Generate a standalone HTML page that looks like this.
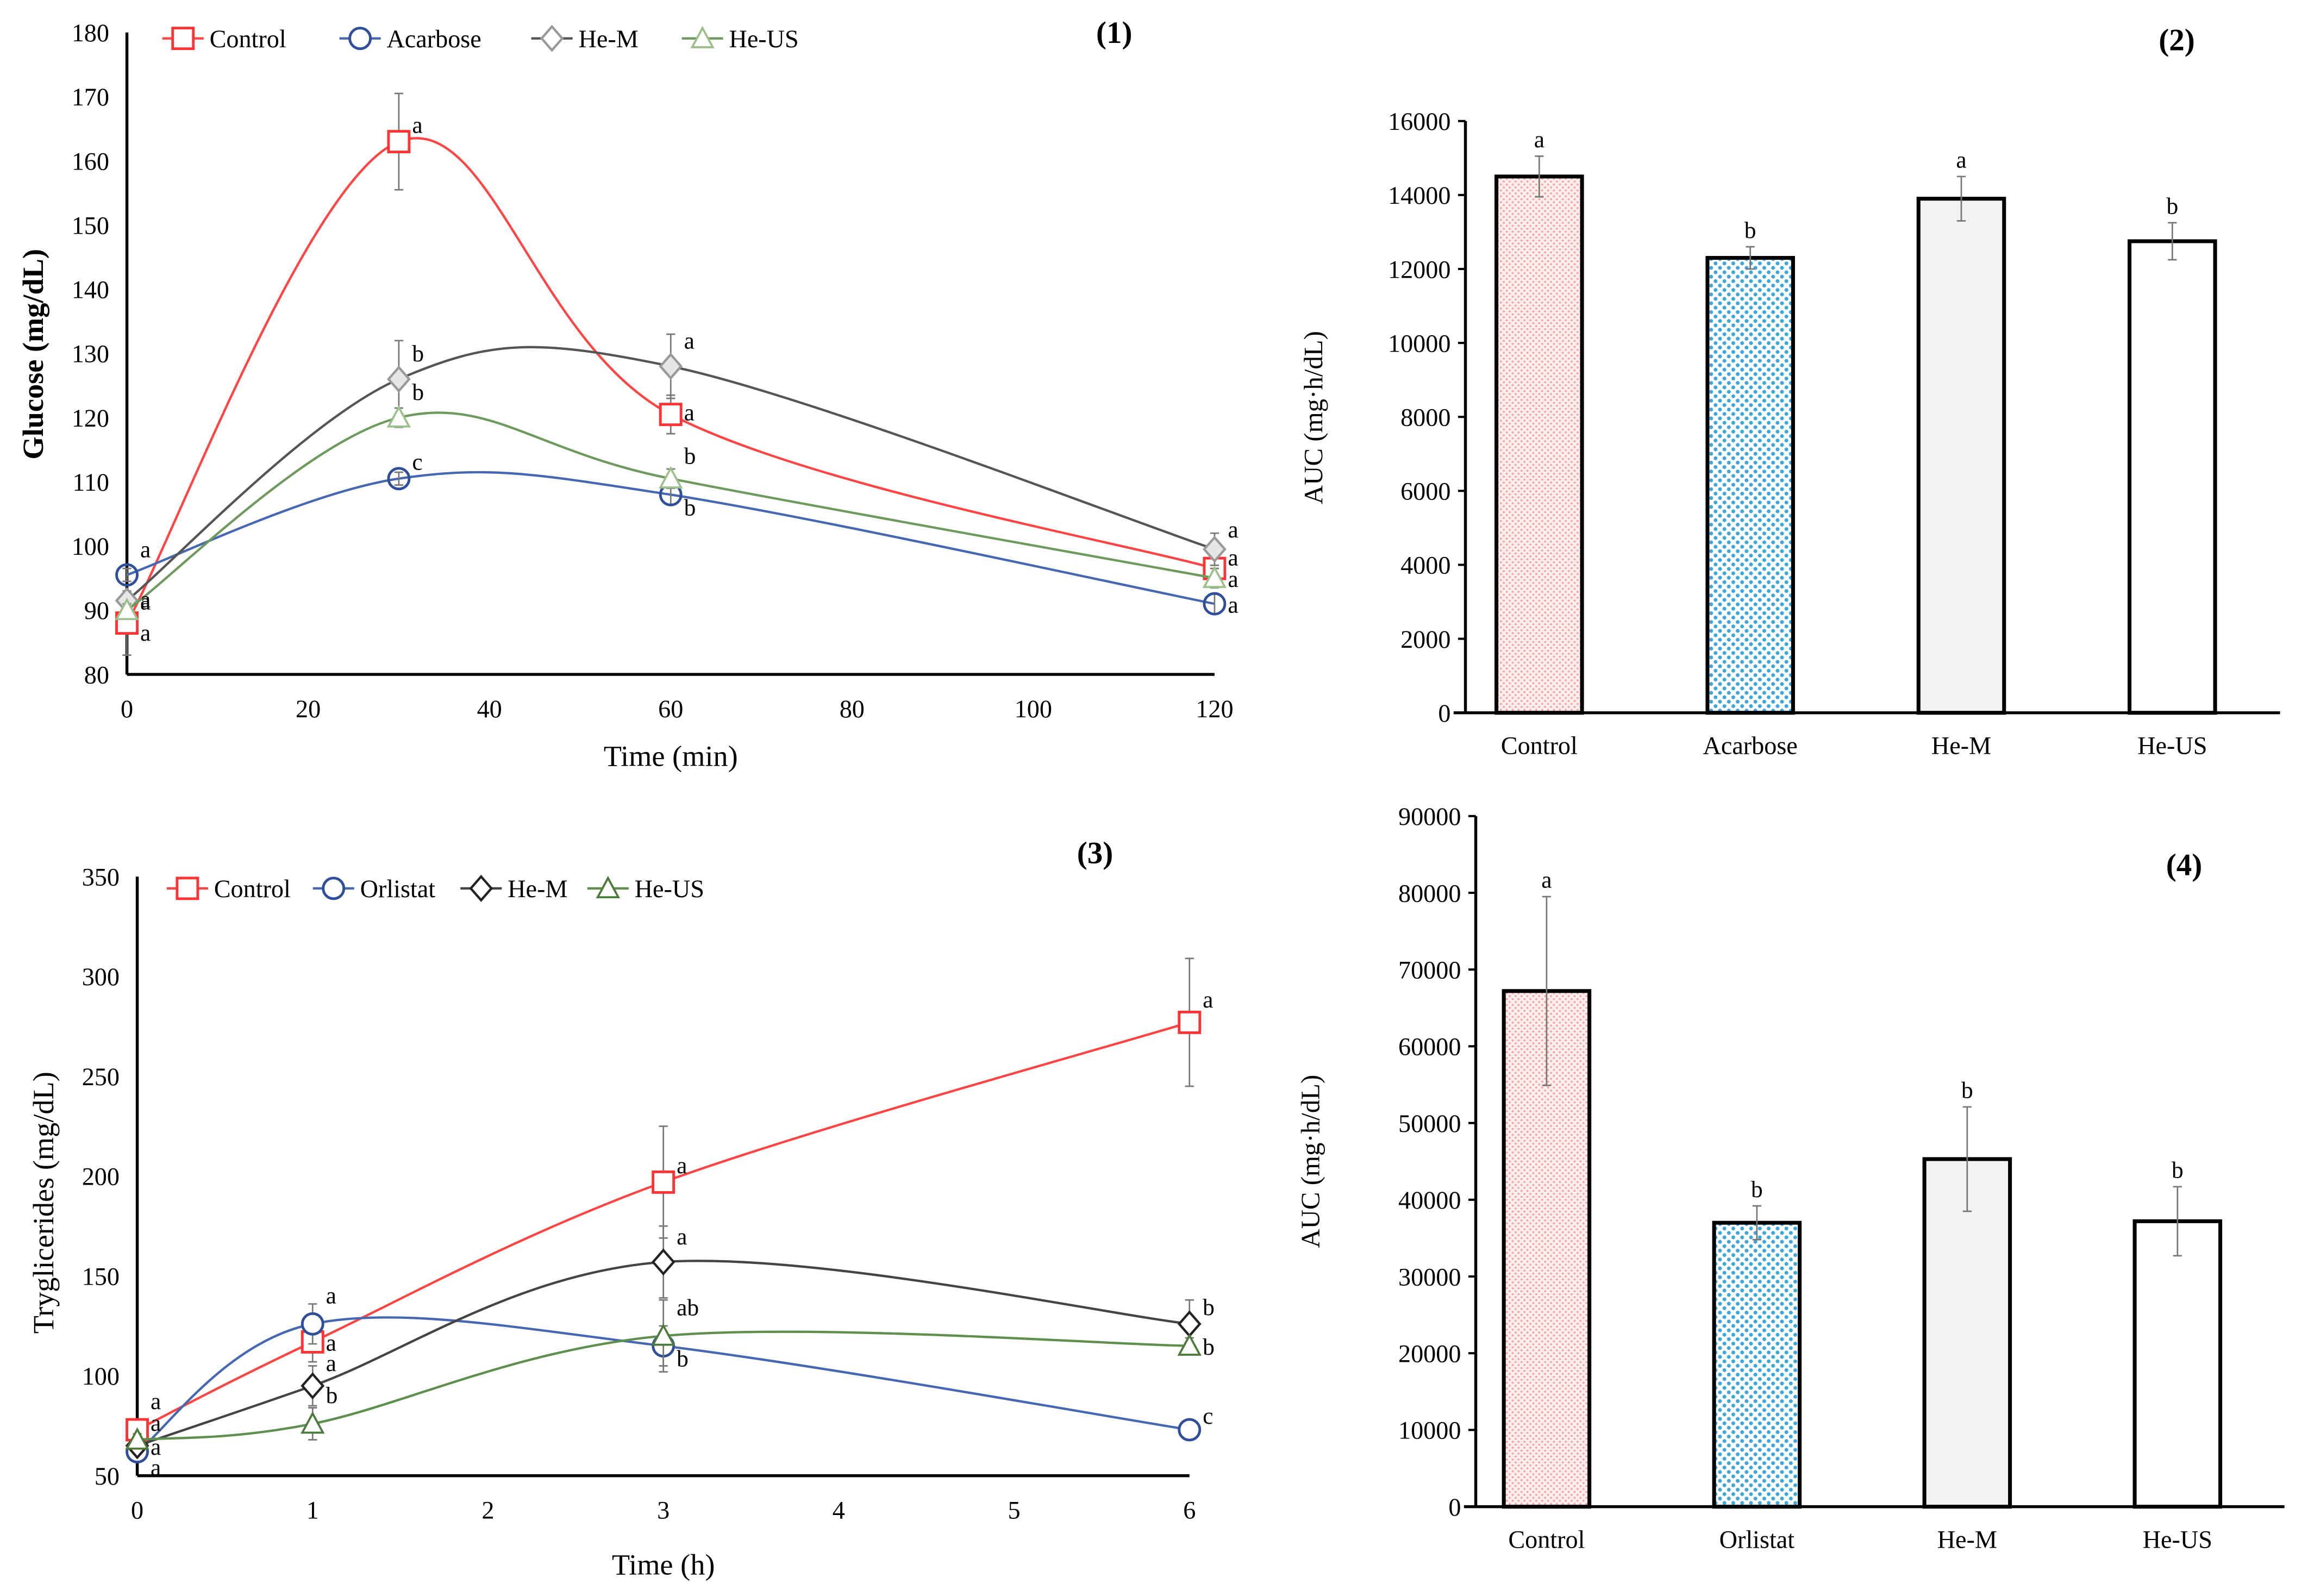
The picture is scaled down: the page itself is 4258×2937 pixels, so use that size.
<!DOCTYPE html>
<html><head><meta charset="utf-8"><style>
html,body{margin:0;padding:0;background:#fff;}
svg{display:block;font-family:"Liberation Serif",serif;}
svg text{font-family:"Liberation Serif",serif;}
</style></head><body>
<svg id="fig" width="4258" height="2937" viewBox="0 0 1568 1081.5" xmlns="http://www.w3.org/2000/svg" font-family="Liberation Serif, serif">
<defs>
<pattern id="pinkDots" width="4" height="4" patternUnits="userSpaceOnUse"><rect width="4" height="4" fill="#fdeeee"/><circle cx="1" cy="1" r="0.7" fill="#f4a0a0"/><circle cx="3" cy="3" r="0.7" fill="#f4a0a0"/></pattern>
<pattern id="blueDots" width="6" height="6" patternUnits="userSpaceOnUse"><rect width="6" height="6" fill="#fff"/><circle cx="1.5" cy="1.5" r="1.3" fill="#3fa6dc"/><circle cx="4.5" cy="4.5" r="1.3" fill="#3fa6dc"/></pattern>
</defs>
</svg>
<script>
// ---------- Chart 1 data ----------
const c1Times=[0,30,60,120];
const c1Control=[88,163,120.5,96.5];
const c1Acarbose=[95.5,110.5,108,91];
const c1HeM=[91.5,126,128,99.5];
const c1HeUS=[90,120,110.5,95];
const c1ControlErr=[5,7.5,3,1.5];
const c1AcarboseErr=[1,1,1.5,1.5];
const c1HeMErr=[1,6,5,2.5];
const c1HeUSErr=[1,1.5,1.5,1.5];
const c1ControlLet=['a','a','a','a'];
const c1AcarboseLet=['a','c','b','a'];
const c1HeMLet=['a','b','a','a'];
const c1HeUSLet=['a','b','b','a'];
const c1YTicks=[80,90,100,110,120,130,140,150,160,170,180];
const c1XTicks=[0,20,40,60,80,100,120];
// ---------- Chart 2 data ----------
const c2Cats=['Control','Acarbose','He-M','He-US'];
const c2Vals=[14500,12300,13900,12750];
const c2Errs=[550,300,600,500];
const c2Lets=['a','b','a','b'];
const c2YTicks=[0,2000,4000,6000,8000,10000,12000,14000,16000];
// ---------- Chart 3 data ----------
const c3Times=[0,1,3,6];
const c3Control=[73,117,197,277];
const c3Orlistat=[62,126,115,73];
const c3HeM=[65,95,157,126];
const c3HeUS=[68,76,120,115];
const c3ControlErr=[3,10,28,32];
const c3OrlistatErr=[3,10,10,2];
const c3HeMErr=[3,10,18,12];
const c3HeUSErr=[3,8,18,4];
const c3ControlLet=['a','a','a','a'];
const c3OrlistatLet=['a','a','b','c'];
const c3HeMLet=['a','a','a','b'];
const c3HeUSLet=['a','b','ab','b'];
const c3YTicks=[50,100,150,200,250,300,350];
const c3XTicks=[0,1,2,3,4,5,6];
// ---------- Chart 4 data ----------
const c4Cats=['Control','Orlistat','He-M','He-US'];
const c4Vals=[67200,37000,45300,37200];
const c4Errs=[12300,2200,6800,4500];
const c4Lets=['a','b','b','b'];
const c4YTicks=[0,10000,20000,30000,40000,50000,60000,70000,80000,90000];

const svg=document.getElementById('fig');
const NS='http://www.w3.org/2000/svg';
function mk(tag,attrs,parent){const e=document.createElementNS(NS,tag);for(const k in attrs)e.setAttribute(k,attrs[k]);(parent||svg).appendChild(e);return e;}
function txt(x,y,s,size,anchor,extra,parent){const t=mk('text',Object.assign({x:x,y:y,'font-size':size,'text-anchor':anchor||'start',fill:'#000','font-family':'Liberation Serif, serif'},extra||{}),parent);t.textContent=s;return t;}
function smooth(pts){let d='M'+pts[0][0]+','+pts[0][1];for(let i=0;i<pts.length-1;i++){const p0=pts[i-1]||pts[i],p1=pts[i],p2=pts[i+1],p3=pts[i+2]||p2;const c1=[p1[0]+(p2[0]-p0[0])/6,p1[1]+(p2[1]-p0[1])/6];const c2=[p2[0]-(p3[0]-p1[0])/6,p2[1]-(p3[1]-p1[1])/6];d+=' C'+c1+' '+c2+' '+p2;}return d;}
function marker(type,x,y,stroke,fill,g){
 if(type==='sq')return mk('rect',{x:x-7,y:y-7,width:14,height:14,fill:fill,stroke:stroke,'stroke-width':1.8},g);
 if(type==='ci')return mk('circle',{cx:x,cy:y,r:7,fill:fill,stroke:stroke,'stroke-width':1.8},g);
 if(type==='di')return mk('polygon',{points:(x)+','+(y-8)+' '+(x+7)+','+y+' '+x+','+(y+8)+' '+(x-7)+','+y,fill:fill,stroke:stroke,'stroke-width':1.6},g);
 return mk('polygon',{points:x+','+(y-7)+' '+(x+7)+','+(y+6)+' '+(x-7)+','+(y+6),fill:fill,stroke:stroke,'stroke-width':1.4},g);
}
function errbar(x,y1,y2,g){mk('line',{x1:x,y1:y1,x2:x,y2:y2,stroke:'#777','stroke-width':1},g);mk('line',{x1:x-3,y1:y1,x2:x+3,y2:y1,stroke:'#777','stroke-width':1},g);mk('line',{x1:x-3,y1:y2,x2:x+3,y2:y2,stroke:'#777','stroke-width':1},g);}

function lineChart(cfg){
 const g=mk('g',{});
 
 
 const X=v=>cfg.x0+(v-cfg.xmin)/(cfg.xmax-cfg.xmin)*(cfg.x1-cfg.x0);
 const Y=v=>cfg.y0-(v-cfg.ymin)/(cfg.ymax-cfg.ymin)*(cfg.y0-cfg.y1);
 const ya=mk('line',{x1:cfg.x0,y1:cfg.y1,x2:cfg.x0,y2:cfg.y0,stroke:'#000','stroke-width':2},g);
 
 
 const xa=mk('line',{x1:cfg.x0,y1:cfg.y0,x2:cfg.x1,y2:cfg.y0,stroke:'#000','stroke-width':2},g);
 
 
 cfg.yTicks.forEach(v=>{const t=txt(cfg.x0-12,Y(v)+6,String(v),17,'end',{},g);
  
  });
 cfg.xTicks.forEach(v=>{const t=txt(X(v),cfg.y0+29,String(v),17,'middle',{},g);
  
  });
 const xt=txt((cfg.x0+cfg.x1)/2,cfg.xTitleY,cfg.xTitle,20,'middle',{},g);
 
 
 const yt=txt(0,0,cfg.yTitle,20,'middle',{transform:'translate('+cfg.yTitleX+','+cfg.yTitleY+') rotate(-90)','font-weight':cfg.yBold?'bold':'normal'},g);
 
 
 const pl=txt(cfg.panel[0],cfg.panel[1],cfg.panel[2],21,'middle',{'font-weight':'bold'},g);
 
 
 cfg.series.forEach(s=>{
  const sg=mk('g',{},g);
  
  
  const pts=cfg.times.map((t,i)=>[X(t),Y(s.vals[i])]);
  const p=mk('path',{d:smooth(pts),fill:'none',stroke:s.color,'stroke-width':1.6},sg);
  
  
  pts.forEach((q,i)=>{
   errbar(q[0],Y(s.vals[i]+s.err[i]),Y(s.vals[i]-s.err[i]),sg);
   const m=marker(s.m,q[0],q[1],s.mstroke,s.mfill,sg);
   
   
   const l=txt(q[0]+(s.lx||9),q[1]+(s.ly?s.ly[i]:-6),s.lets[i],16,'start',{},sg);
   
   
  });
  const lg=mk('g',{},g);
  
  
  mk('line',{x1:s.lg[0],y1:cfg.legY,x2:s.lg[0]+28,y2:cfg.legY,stroke:s.color,'stroke-width':1.6},lg);
  marker(s.m,s.lg[0]+14,cfg.legY,s.mstroke,'#fff',lg);
  txt(s.lg[0]+32,cfg.legY+6,s.label,17,'start',{},lg);
 });
}

lineChart({name:'glucose-chart',x0:86,x1:823,y0:457,y1:22,xmin:0,xmax:120,ymin:80,ymax:180,
 yTicks:c1YTicks,xTicks:c1XTicks,times:c1Times,xTitle:'Time (min)',xTitleY:519,yTitle:'Glucose (mg/dL)',yTitleX:29,yTitleY:240,yBold:true,
 panel:[755,29,'(1)'],legY:26,
 series:[
  {key:'control',label:'Control',vals:c1Control,err:c1ControlErr,lets:c1ControlLet,color:'#f44',m:'sq',mstroke:'#f33',mfill:'#fff',lg:[110],ly:[12,-6,4,-2]},
  {key:'acarbose',label:'Acarbose',vals:c1Acarbose,err:c1AcarboseErr,lets:c1AcarboseLet,color:'#4668b0',m:'ci',mstroke:'#2f4f9a',mfill:'none',lg:[230],ly:[-12,-6,14,6]},
  {key:'he-m',label:'He-M',vals:c1HeM,err:c1HeMErr,lets:c1HeMLet,color:'#555',m:'di',mstroke:'#999',mfill:'#e6e6e6',lg:[360],ly:[6,-12,-12,-8]},
  {key:'he-us',label:'He-US',vals:c1HeUS,err:c1HeUSErr,lets:c1HeUSLet,color:'#6f9a5e',m:'tr',mstroke:'#9cc08a',mfill:'#fff',lg:[462],ly:[-2,-12,-10,6]}
 ]});

lineChart({name:'triglycerides-chart',x0:93,x1:806,y0:1000,y1:594,xmin:0,xmax:6,ymin:50,ymax:350,
 yTicks:c3YTicks,xTicks:c3XTicks,times:c3Times,xTitle:'Time (h)',xTitleY:1067,yTitle:'Tryglicerides (mg/dL)',yTitleX:36,yTitleY:815,yBold:false,
 panel:[742,585,'(3)'],legY:602,
 series:[
  {key:'control',label:'Control',vals:c3Control,err:c3ControlErr,lets:c3ControlLet,color:'#f44',m:'sq',mstroke:'#f33',mfill:'#fff',lg:[113],ly:[-14,6,-6,-10]},
  {key:'orlistat',label:'Orlistat',vals:c3Orlistat,err:c3OrlistatErr,lets:c3OrlistatLet,color:'#4668b0',m:'ci',mstroke:'#2f4f9a',mfill:'#fff',lg:[212],ly:[16,-14,14,-4]},
  {key:'he-m',label:'He-M',vals:c3HeM,err:c3HeMErr,lets:c3HeMLet,color:'#444',m:'di',mstroke:'#222',mfill:'#fff',lg:[312],ly:[6,-10,-12,-6]},
  {key:'he-us',label:'He-US',vals:c3HeUS,err:c3HeUSErr,lets:c3HeUSLet,color:'#5f8f4e',m:'tr',mstroke:'#4b7a3a',mfill:'#fff',lg:[398],ly:[-6,-14,-14,6]}
 ]});

function barChart(cfg){
 const g=mk('g',{});
 
 
 const Y=v=>cfg.y0-v/cfg.ymax*(cfg.y0-cfg.y1);
 const ya=mk('line',{x1:cfg.x0,y1:cfg.y1,x2:cfg.x0,y2:cfg.y0,stroke:'#000','stroke-width':2},g);
 
 
 cfg.yTicks.forEach(v=>{mk('line',{x1:cfg.x0-5,y1:Y(v),x2:cfg.x0,y2:Y(v),stroke:'#000','stroke-width':1.5},g);
  const t=txt(cfg.x0-10,Y(v)+6,String(v),17,'end',{},g);
  
  });
 const fills=['url(#pinkDots)','url(#blueDots)','#f2f2f2','#fff'];
 cfg.cats.forEach((c,i)=>{
  const cx=cfg.x0+cfg.off+cfg.step*i;
  const r=mk('rect',{x:cx-29,y:Y(cfg.vals[i]),width:58,height:cfg.y0-Y(cfg.vals[i]),fill:fills[i],stroke:'#000','stroke-width':2.6},g);
  
  
  errbar(cx,Y(cfg.vals[i]+cfg.errs[i]),Y(cfg.vals[i]-cfg.errs[i]),g);
  const l=txt(cx,Y(cfg.vals[i]+cfg.errs[i])-6,cfg.lets[i],16,'middle',{},g);
  
  
  const xl=txt(cx,cfg.y0+28,c,17,'middle',{},g);
  
  
 });
 const xa=mk('line',{x1:cfg.x0-8,y1:cfg.y0,x2:cfg.x1,y2:cfg.y0,stroke:'#000','stroke-width':2},g);
 
 
 const yt=txt(0,0,'AUC (mg·h/dL)',18,'middle',{transform:'translate('+cfg.yTitleX+','+cfg.yTitleY+') rotate(-90)'},g);
 
 
 const pl=txt(cfg.panel[0],cfg.panel[1],cfg.panel[2],21,'middle',{'font-weight':'bold'},g);
 
 
}
barChart({name:'glucose-auc-chart',x0:993,x1:1545,off:50,step:143,y0:483,y1:82,ymax:16000,yTicks:c2YTicks,cats:c2Cats,vals:c2Vals,errs:c2Errs,lets:c2Lets,yTitleX:896,yTitleY:283,panel:[1475,34,'(2)']});
barChart({name:'triglyceride-auc-chart',x0:1000,x1:1548,off:48,step:142.5,y0:1021,y1:553,ymax:90000,yTicks:c4YTicks,cats:c4Cats,vals:c4Vals,errs:c4Errs,lets:c4Lets,yTitleX:894,yTitleY:787,panel:[1480,593,'(4)']});
</script>
</body></html>
